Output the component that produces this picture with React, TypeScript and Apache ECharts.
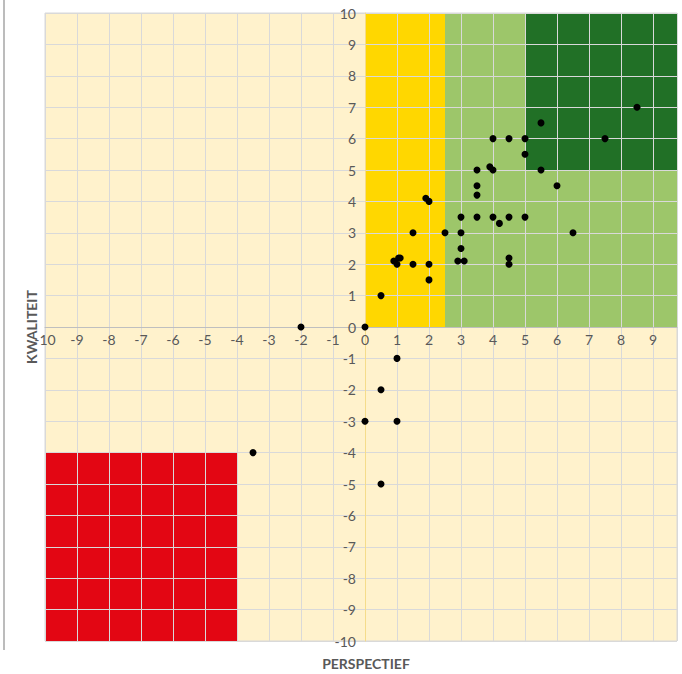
import React, { useEffect, useRef } from "react";
import * as echarts from "echarts";

// Data
const pointsX = [-2, 0, 0.5, 1, 0.5, 0, 1, 0.5, -3.5, 0.9, 1, 1.05, 1.1, 1.5, 1.5, 2, 2, 1.9, 2, 2.5, 3, 3, 3, 2.9, 3.1, 3.5, 3.5, 3.5, 3.5, 3.9, 4, 4, 4.5, 5, 5, 4, 4.2, 4.5, 5, 4.5, 4.5, 5.5, 5.5, 8.5, 7.5, 6, 6.5];
const pointsY = [0, 0, 1, -1, -2, -3, -3, -5, -4, 2.1, 2, 2.2, 2.2, 3, 2, 2, 1.5, 4.1, 4, 3, 3.5, 3, 2.5, 2.1, 2.1, 5, 4.5, 4.2, 3.5, 5.1, 5, 6, 6, 6, 5.5, 3.5, 3.3, 3.5, 3.5, 2.2, 2, 6.5, 5, 7, 6, 4.5, 3];

const xMin = -10;
const xMax = 9.75;
const yMin = -10;
const yMax = 10;

// zones: [x1, y1, x2, y2]
const zoneX1 = [0, 2.5, 5, 5, -10];
const zoneY1 = [0, 0, 0, 5, -10];
const zoneX2 = [2.5, 5, 9.75, 9.75, -4];
const zoneY2 = [10, 10, 5, 10, -4];
const zoneColors = ["#FFD700", "#9DC66A", "#9DC66A", "#217026", "#E30613"];

const xAxisTitle = "PERSPECTIEF";
const yAxisTitle = "KWALITEIT";

const gridLeft = 45;
const gridTop = 13;
const gridRight = 5;
const gridBottom = 33;
const W = 682;
const H = 674;

export default function App() {
  const ref = useRef<HTMLDivElement>(null);
  useEffect(() => {
    if (!ref.current) return;
    const chart = echarts.init(ref.current, null, { renderer: "svg" });
    const zoneData = zoneX1.map((x1, i) => [x1, zoneY1[i], zoneX2[i], zoneY2[i], i]);
    const pts = pointsX.map((x, i) => [x, pointsY[i]]);
    const font = "Lato, 'Open Sans', sans-serif";
    const plotW = W - gridLeft - gridRight;
    const plotH = H - gridTop - gridBottom;
    // offsets to place axes at the origin
    const xOffset = -plotH * (0 - yMin) / (yMax - yMin);
    const yOffset = -plotW * (0 - xMin) / (xMax - xMin);
    chart.setOption({
      animation: false,
      backgroundColor: "#ffffff",
      grid: {
        left: gridLeft,
        top: gridTop,
        right: gridRight,
        bottom: gridBottom,
        show: true,
        backgroundColor: "#FFF2CC",
        borderColor: "#D9D9D9",
        borderWidth: 1,
      },
      xAxis: {
        type: "value",
        min: xMin,
        max: xMax,
        interval: 1,
        z: 3,
        position: "bottom",
        offset: xOffset,
        axisLine: { onZero: false, lineStyle: { color: "#BFBFBF", width: 1 } },
        axisTick: { show: false },
        splitLine: { show: true, lineStyle: { color: "#D9D9D9", width: 1 } },
        axisLabel: {
          margin: 5,
          color: "#595959",
          fontSize: 14,
          fontFamily: font,
          showMaxLabel: false,
          formatter: (v: number) => (Number.isInteger(v) ? String(v) : ""),
        },
      },
      yAxis: {
        type: "value",
        min: yMin,
        max: yMax,
        interval: 1,
        z: 3,
        position: "left",
        offset: yOffset,
        axisLine: { onZero: false, lineStyle: { color: "#F5DC8A", width: 1 } },
        axisTick: { show: false },
        splitLine: { show: true, lineStyle: { color: "#D9D9D9", width: 1 } },
        axisLabel: {
          margin: 9,
          color: "#595959",
          fontSize: 14,
          fontFamily: font,
        },
      },
      graphic: [
        {
          type: "line",
          shape: { x1: 4, y1: 0, x2: 4, y2: 650 },
          style: { stroke: "#A6A6A6", lineWidth: 1.5 },
        },
        {
          type: "text",
          x: 366,
          y: 663,
          style: {
            text: xAxisTitle,
            fill: "#595959",
            font: "bold 14px " + font,
            textAlign: "center",
            textVerticalAlign: "middle",
          },
        },
        {
          type: "text",
          x: 31,
          y: 327,
          rotation: Math.PI / 2,
          style: {
            text: yAxisTitle,
            fill: "#595959",
            font: "bold 14px " + font,
            textAlign: "center",
            textVerticalAlign: "middle",
          },
        },
      ],
      series: [
        {
          type: "custom",
          z: 1,
          silent: true,
          data: zoneData,
          renderItem: (params: any, api: any) => {
            const p1 = api.coord([api.value(0), api.value(1)]);
            const p2 = api.coord([api.value(2), api.value(3)]);
            const idx = api.value(4);
            return {
              type: "rect",
              shape: {
                x: Math.min(p1[0], p2[0]),
                y: Math.min(p1[1], p2[1]),
                width: Math.abs(p2[0] - p1[0]),
                height: Math.abs(p2[1] - p1[1]),
              },
              style: { fill: zoneColors[idx] },
            };
          },
        },
        {
          type: "scatter",
          z: 5,
          symbolSize: 7,
          itemStyle: { color: "#000000", opacity: 1 },
          data: pts,
        },
      ],
    });
    return () => chart.dispose();
  }, []);
  return (
    <div
      ref={ref}
      style={{ position: "absolute", left: 0, top: 0, width: W, height: H }}
    />
  );
}
